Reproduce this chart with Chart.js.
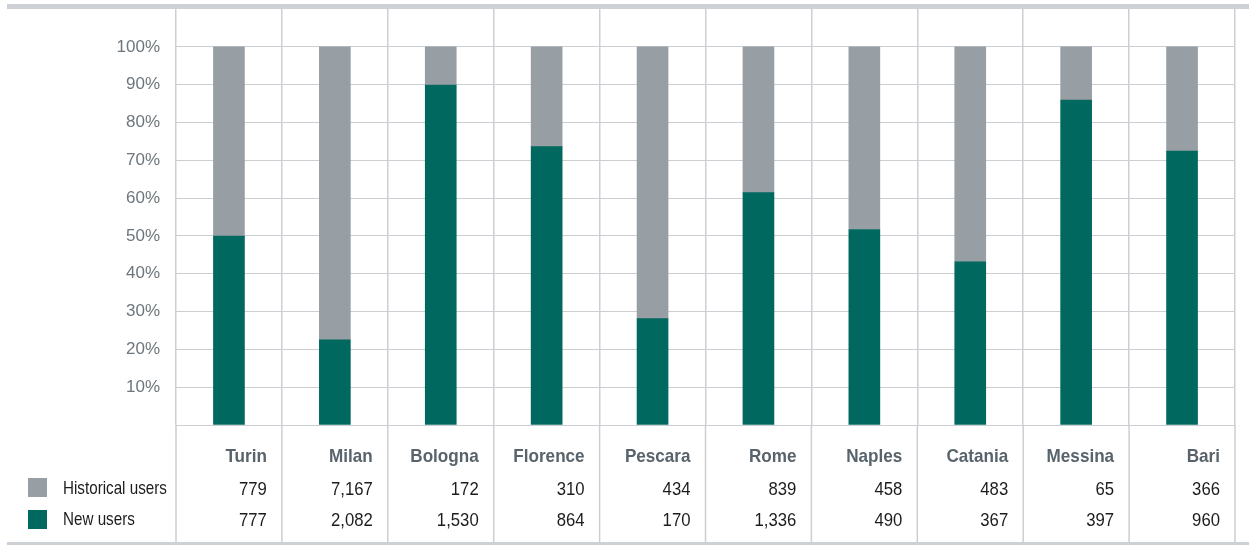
<!DOCTYPE html>
<html>
<head>
<meta charset="utf-8">
<script src="https://cdn.jsdelivr.net/npm/chart.js@4"></script>
<style>
  html, body { margin: 0; padding: 0; background: #fff; }
  #wrap { width: 1249px; height: 545px; }
</style>
</head>
<body>
<div id="wrap"><canvas id="usersChart"></canvas></div>
<script>
// --- Data ---
var cities = ['Turin', 'Milan', 'Bologna', 'Florence', 'Pescara', 'Rome', 'Naples', 'Catania', 'Messina', 'Bari'];
var historicalUsers = [779, 7167, 172, 310, 434, 839, 458, 483, 65, 366];
var newUsers = [777, 2082, 1530, 864, 170, 1336, 490, 367, 397, 960];
var seriesLabels = ['Historical users', 'New users'];

var GRAY = '#979fa4';
var GREEN = '#00685f';
var GRID = '#cbcfd3';

// share of each city's total, in %
function share(part, other) {
  return part.map(function (v, i) { return (v / (v + other[i])) * 100; });
}

function condensedText(ctx, text, x, y, sx) {
  ctx.save();
  ctx.translate(x, y);
  ctx.scale(sx, 1);
  ctx.fillText(text, 0, 0);
  ctx.restore();
}

// draws the frame and the data table under the bars
var tablePlugin = {
  id: 'tablePlugin',
  afterDraw: function (chart) {
    var ctx = chart.ctx;
    var xs = chart.scales.x;
    var area = chart.chartArea;
    var step = xs.getPixelForValue(1) - xs.getPixelForValue(0);

    ctx.save();
    // top and bottom rules
    ctx.fillStyle = '#cdd1d5';
    ctx.fillRect(7, 4, 1242, 5);
    ctx.fillRect(7, 542, 1242, 3);

    // column lines through the table
    ctx.strokeStyle = GRID;
    ctx.lineWidth = 1.5;
    for (var i = 0; i <= cities.length; i++) {
      var lx = xs.getPixelForValue(0) - step / 2 + i * step;
      ctx.beginPath();
      ctx.moveTo(lx, area.bottom);
      ctx.lineTo(lx, 542);
      ctx.stroke();
    }

    ctx.textBaseline = 'middle';
    ctx.textAlign = 'right';
    cities.forEach(function (c, i) {
      var rx = xs.getPixelForValue(i) + step / 2 - 15;
      ctx.font = 'bold 19px "Liberation Sans", Arial, sans-serif';
      ctx.fillStyle = '#58636b';
      condensedText(ctx, c, rx, 457, 0.9);
      ctx.font = '19px "Liberation Sans", Arial, sans-serif';
      ctx.fillStyle = '#1c1c1c';
      condensedText(ctx, historicalUsers[i].toLocaleString('en-US'), rx, 490, 0.88);
      condensedText(ctx, newUsers[i].toLocaleString('en-US'), rx, 521, 0.88);
    });

    // legend keys
    ctx.textAlign = 'left';
    ctx.fillStyle = GRAY;
    ctx.fillRect(28, 478, 19, 19);
    ctx.fillStyle = GREEN;
    ctx.fillRect(28, 510, 19, 19);
    ctx.fillStyle = '#1c1c1c';
    ctx.font = '19px "Liberation Sans", Arial, sans-serif';
    condensedText(ctx, seriesLabels[0], 63, 489, 0.8);
    condensedText(ctx, seriesLabels[1], 63, 520, 0.8);
    ctx.restore();
  },
};

new Chart(document.getElementById('usersChart'), {
  type: 'bar',
  data: {
    labels: cities,
    datasets: [
      {
        label: seriesLabels[1],
        data: share(newUsers, historicalUsers),
        backgroundColor: GREEN,
        barThickness: 31,
      },
      {
        label: seriesLabels[0],
        data: share(historicalUsers, newUsers),
        backgroundColor: GRAY,
        barThickness: 31,
      },
    ],
  },
  options: {
    responsive: true,
    maintainAspectRatio: false,
    animation: false,
    layout: { padding: { top: 9, right: 14, bottom: 120, left: 0 } },
    plugins: {
      legend: { display: false },
      tooltip: { enabled: false },
    },
    scales: {
      x: {
        stacked: true,
        ticks: { display: false },
        grid: { offset: true, drawTicks: false, color: GRID, lineWidth: 1.5 },
        border: { display: false },
        afterFit: function (s) { s.height = 0; },
      },
      y: {
        stacked: true,
        min: 0,
        max: 110,
        ticks: {
          stepSize: 10,
          padding: 16,
          color: '#6d767c',
          font: { family: '"Liberation Sans", Arial, sans-serif', size: 17 },
          callback: function (v) {
            if (v > 100) return null;
            return v > 0 ? v + '%' : '';
          },
        },
        grid: { drawTicks: false, color: GRID, lineWidth: 1 },
        border: { display: false },
        afterFit: function (s) {
          s.width = 176;
          s.paddingTop = 0;
          s.paddingBottom = 0;
        },
      },
    },
  },
  plugins: [tablePlugin],
});
</script>
</body>
</html>
